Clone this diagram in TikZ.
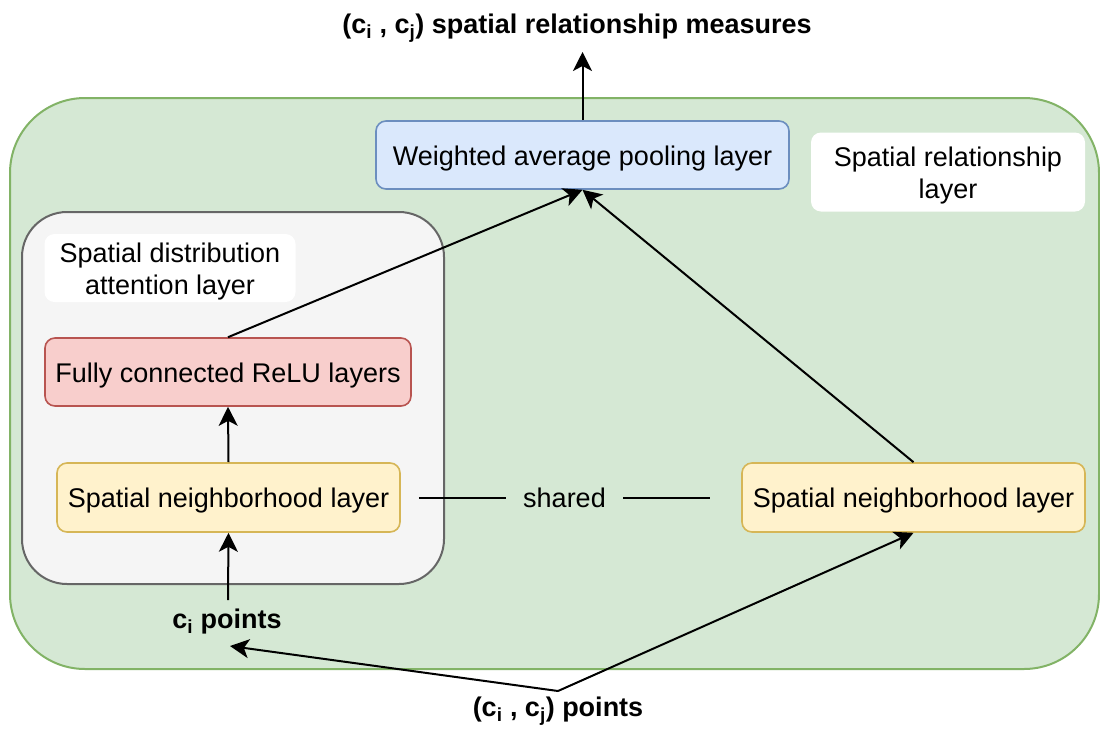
\documentclass[tikz,border=0pt]{standalone}
\usepackage{fontspec}
\setmainfont{Liberation Sans}
\usetikzlibrary{arrows.meta}

\definecolor{grfill}{HTML}{D5E8D4}
\definecolor{grline}{HTML}{82B366}
\definecolor{gyfill}{HTML}{F5F5F5}
\definecolor{gyline}{HTML}{666666}
\definecolor{rdfill}{HTML}{F8CECC}
\definecolor{rdline}{HTML}{B85450}
\definecolor{ylfill}{HTML}{FFF2CC}
\definecolor{ylline}{HTML}{D6B656}
\definecolor{blfill}{HTML}{DAE8FC}
\definecolor{blline}{HTML}{6C8EBF}

% extra height on the first line lowers a two-line caption inside its box
\newcommand{\highstrut}{\rule{0pt}{26.7pt}}

\begin{document}
\begin{tikzpicture}[x=1pt, y=-1pt,
  every node/.style={font=\fontsize{27pt}{32pt}\selectfont, inner sep=0pt},
  oneline/.style={text height=25.7pt, text depth=5.7pt},
  layerbox/.style={draw, line width=1.6pt, rounded corners=10pt, align=center, oneline},
  tagbox/.style={fill=white, rounded corners=10pt, align=center},
  label/.style={font=\fontsize{27pt}{32pt}\selectfont\bfseries, anchor=base},
  conn/.style={line width=2pt, -{Stealth[length=19pt, width=19pt, inset=5pt]}},
  plain/.style={line width=2pt}]

\useasboundingbox (0,0) rectangle (1100,737);

% outer spatial relationship container
\node[draw=grline, fill=grfill, line width=2pt, rounded corners=75pt,
      minimum width=1089pt, minimum height=571pt] (outer) at (554.5,383.5) {};

% spatial distribution attention container
\node[draw=gyline, fill=gyfill, line width=2pt, rounded corners=45pt,
      minimum width=422pt, minimum height=372pt] (attn) at (233,398) {};

% captions of the two containers
\node[tagbox, minimum width=251pt, minimum height=68pt] (attntag) at (170,268)
  {\highstrut Spatial distribution\\attention layer};
\node[tagbox, minimum width=274pt, minimum height=79pt] (reltag) at (948,172)
  {\highstrut Spatial relationship\\layer};

% layers
\node[layerbox, draw=blline, fill=blfill, minimum width=413pt, minimum height=68pt]
  (pool) at (582.5,155) {Weighted average pooling layer};
\node[layerbox, draw=rdline, fill=rdfill, minimum width=366pt, minimum height=68pt]
  (fc) at (228,372) {Fully connected ReLU layers};
\node[layerbox, draw=ylline, fill=ylfill, minimum width=343pt, minimum height=69pt]
  (nbl) at (228.5,497.5) {Spatial neighborhood layer};
\node[layerbox, draw=ylline, fill=ylfill, minimum width=343pt, minimum height=69pt]
  (nbr) at (913.5,497.5) {Spatial neighborhood layer};

% inputs and output (placed by their baselines)
\node[label] (title) at (577,33) {(c\textsubscript{i} , c\textsubscript{j}) spatial relationship measures};
\node[label] (ci) at (227,628) {c\textsubscript{i} points};
\node[label] (pts) at (558,716) {(c\textsubscript{i} , c\textsubscript{j}) points};

\coordinate (top) at (582.5,52);
\coordinate (fork) at (558,691);
\coordinate (citip) at (230,646);
\coordinate (cibase) at (228,600);

% connectors
\draw[conn] (pool.north) -- (top);
\draw[conn] (fc.north) -- (pool.south);
\draw[conn] (nbr.north) -- (pool.south);
\draw[conn] (nbl.north) -- (fc.south);
\draw[conn] (cibase) -- (nbl.south);
\draw[conn] (fork) -- (citip);
\draw[conn] (fork) -- (nbr.south);

% weight sharing between the two neighborhood layers
\draw[plain] ([xshift=18pt]nbl.east) -- node[fill=grfill, oneline, inner xsep=17pt] {shared}
  ([xshift=-31pt]nbr.west);
\end{tikzpicture}
\end{document}
